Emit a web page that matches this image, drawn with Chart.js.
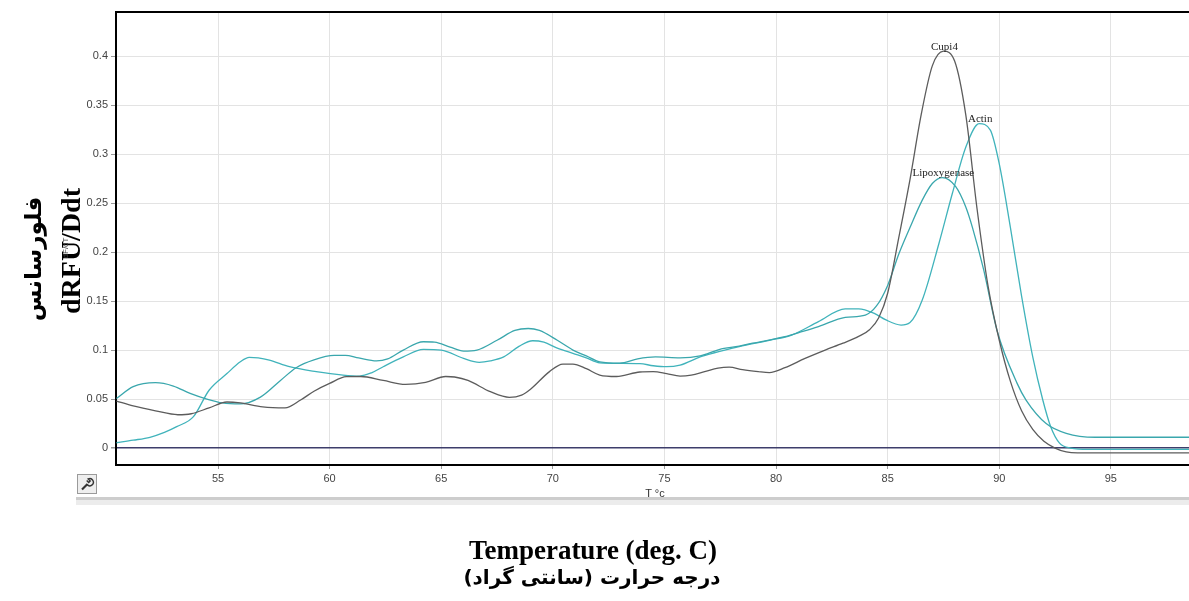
<!DOCTYPE html>
<html lang="en">
<head>
    <meta charset="UTF-8">
    <title>Melt curve - dF/dT</title>
    <script src="https://cdn.jsdelivr.net/npm/chart.js"></script>
    <style>
        body {
            margin: 0;
            background: #fff;
            font-family: Arial, "Liberation Sans", sans-serif;
        }
        .wrap {
            position: relative;
            width: 1189px;
            height: 601px;
            overflow: hidden;
        }
        canvas {
            position: absolute;
            left: 0;
            top: 0;
        }
        .lbl {
            position: absolute;
            white-space: nowrap;
            transform: translate(-50%, -50%);
        }
        .rot {
            transform: translate(-50%, -50%) rotate(-90deg);
        }
        .big {
            font-family: "Liberation Serif", "Times New Roman", serif;
            font-weight: bold;
            color: #000;
        }
        .fa {
            font-family: "DejaVu Sans", sans-serif;
            font-weight: bold;
            color: #000;
        }
        .strip {
            position: absolute;
            left: 76px;
            top: 497px;
            width: 1113px;
            height: 5px;
            border-top: 3px solid #cdcdcd;
            background: #ececec;
        }
        .tool {
            position: absolute;
            left: 77px;
            top: 474px;
        }
    </style>
</head>
<body>
<div class="wrap">
    <canvas id="melt" width="1189" height="601"></canvas>

    <div class="strip"></div>
    <svg class="tool" width="20" height="20">
        <rect x="0.5" y="0.5" width="19" height="19" fill="#eeeeee" stroke="#9a9a9a"/>
        <path d="M5 15.5 L10.5 10" stroke="#333" stroke-width="2.2" fill="none"/>
        <path d="M10 10.5 a3.6 3.6 0 1 0 1.2 -5.6 l2 2 -1.5 1.5 -2 -2" stroke="#333" stroke-width="1.4" fill="none"/>
    </svg>

    <div class="lbl rot fa" style="left:33px; top:259px; font-size:23px;">فلورسانس</div>
    <div class="lbl rot big" style="left:71px; top:251px; font-size:28px;">dRFU/Ddt</div>
    <div class="lbl rot" style="left:65px; top:248px; font-size:8px; color:#444;">dF/dT</div>

    <div class="lbl" style="left:655px; top:493px; font-size:11px; color:#333;">T °c</div>

    <div class="lbl big" style="left:593px; top:550px; font-size:27px;">Temperature (deg. C)</div>
    <div class="lbl fa" dir="rtl" style="left:592px; top:577px; font-size:20px;">درجه حرارت (سانتی گراد)</div>
</div>

<script>
    // values
    const cupi4Temp = [50.45, 51.2, 52.2, 53.2, 53.8, 54.6, 55.4, 56.0, 57.0, 58.0,
        58.7, 59.3, 60.0, 60.75, 61.4, 62.4, 63.4, 64.3, 65.2, 65.6,
        66.2, 67.2, 68.05, 68.6, 69.0, 69.85, 70.45, 70.9, 71.5, 72.1,
        72.85, 73.9, 74.5, 75.1, 75.7, 76.2, 76.8, 77.4, 77.9, 78.5,
        79.2, 79.7, 80.4, 81.3, 82.2, 83.0, 83.7, 84.2, 84.6, 85.0,
        85.5, 86.0, 86.5, 87.0, 87.5, 88.0, 88.5, 89.0, 89.5, 90.0,
        90.5, 91.0, 91.5, 92.0, 92.5, 93.0, 93.5, 98.5];
    const cupi4Vals = [0.048, 0.043, 0.038, 0.034, 0.035, 0.041, 0.047, 0.046, 0.042, 0.041,
        0.049, 0.058, 0.066, 0.0728, 0.073, 0.069, 0.065, 0.067, 0.073, 0.0725,
        0.069, 0.0575, 0.0517, 0.054, 0.060, 0.078, 0.0857, 0.0857, 0.081, 0.0745,
        0.073, 0.0776, 0.078, 0.076, 0.0735, 0.0745, 0.078, 0.0816, 0.0826, 0.080,
        0.078, 0.077, 0.082, 0.0915, 0.100, 0.107, 0.114, 0.121, 0.133, 0.158,
        0.215, 0.274, 0.34, 0.39, 0.405, 0.395, 0.34, 0.245, 0.165, 0.11,
        0.068, 0.038, 0.019, 0.007, 0.0, -0.004, -0.005, -0.005];

    const lipoxTemp = [50.45, 51.2, 52.2, 53.0, 53.75, 54.5, 55.2, 56.0, 56.9, 57.8,
        58.5, 59.3, 60.2, 60.7, 61.3, 62.1, 62.6, 63.3, 64.2, 64.7,
        65.4, 66.0, 66.6, 67.5, 68.3, 68.9, 69.4, 70.2, 70.9, 71.5,
        72.1, 73.0, 73.8, 74.6, 75.7, 76.6, 77.45, 78.35, 78.95, 80.4,
        81.2, 81.9, 83.1, 84.0, 84.5, 85.0, 85.5, 86.0, 86.55, 87.0,
        87.45, 88.05, 88.5, 88.8, 89.3, 89.9, 90.8, 91.2, 92.1, 93.0, 94.3, 98.5];
    const lipoxVals = [0.0505, 0.0626, 0.0667, 0.0633, 0.0558, 0.050, 0.046, 0.045, 0.052, 0.069,
        0.082, 0.090, 0.0945, 0.0945, 0.092, 0.089, 0.091, 0.100, 0.1085, 0.108,
        0.103, 0.099, 0.100, 0.110, 0.120, 0.122, 0.120, 0.110, 0.100, 0.094,
        0.088, 0.0867, 0.091, 0.093, 0.092, 0.094, 0.1005, 0.104, 0.107, 0.1136,
        0.119, 0.124, 0.1333, 0.1357, 0.145, 0.166, 0.198, 0.225, 0.253, 0.27,
        0.276, 0.2667, 0.246, 0.225, 0.182, 0.12, 0.066, 0.049, 0.025, 0.015, 0.011, 0.011];

    const actinTemp = [50.45, 51.2, 51.95, 52.6, 53.15, 53.9, 54.6, 55.4, 56.0, 56.4,
        56.8, 57.3, 58.2, 59.4, 60.6, 61.35, 61.9, 62.4, 63.3, 64.2,
        65.0, 66.0, 66.7, 67.2, 67.8, 68.5, 69.1, 69.6, 70.2, 70.9,
        71.5, 72.1, 73.0, 73.9, 74.5, 75.1, 75.7, 76.6, 77.2, 78.35,
        79.7, 80.7, 81.9, 83.1, 83.7, 84.4, 84.9, 85.6, 86.0, 86.55,
        87.3, 87.9, 88.5, 89.1, 89.6, 90.0, 90.5, 91.0, 91.5, 91.95,
        92.3, 92.7, 93.2, 94.0, 98.5];
    const actinVals = [0.0054, 0.008, 0.011, 0.016, 0.0218, 0.032, 0.059, 0.076, 0.088, 0.0925,
        0.092, 0.0898, 0.083, 0.078, 0.0745, 0.0735, 0.077, 0.083, 0.093, 0.1007,
        0.100, 0.0915, 0.0875, 0.089, 0.093, 0.104, 0.1095, 0.108, 0.102, 0.0966,
        0.092, 0.087, 0.0865, 0.0862, 0.084, 0.083, 0.0847, 0.093, 0.097, 0.1034,
        0.110, 0.1153, 0.129, 0.142, 0.142, 0.1374, 0.131, 0.1255, 0.128, 0.151,
        0.209, 0.26, 0.307, 0.331, 0.3245, 0.29, 0.225, 0.155, 0.093, 0.049,
        0.022, 0.005, 0.0, -0.0013, -0.0013];

    const xTicks = [55, 60, 65, 70, 75, 80, 85, 90, 95];
    const yTicks = [0, 0.05, 0.1, 0.15, 0.2, 0.25, 0.3, 0.35, 0.4];

    const toPoints = (xs, ys) => xs.map((x, i) => ({ x: x, y: ys[i] }));

    // top frame line + gene name above each peak
    const framePlugin = {
        id: 'frame',
        afterDatasetsDraw(chart) {
            const { ctx, chartArea } = chart;
            ctx.save();
            ctx.strokeStyle = '#000';
            ctx.lineWidth = 2;
            ctx.beginPath();
            ctx.moveTo(chartArea.left - 1, chartArea.top);
            ctx.lineTo(chartArea.right, chartArea.top);
            ctx.stroke();

            ctx.font = '11px "Liberation Serif", "Times New Roman", serif';
            ctx.fillStyle = '#222';
            ctx.textAlign = 'center';
            ctx.textBaseline = 'bottom';
            chart.data.datasets.forEach(ds => {
                let best = ds.data[0];
                ds.data.forEach(p => { if (p.y > best.y) best = p; });
                const px = chart.scales.x.getPixelForValue(best.x);
                const py = chart.scales.y.getPixelForValue(best.y);
                ctx.fillText(ds.label, px + 1, py + 1);
            });
            ctx.restore();
        }
    };

    new Chart(document.getElementById('melt'), {
        type: 'line',
        data: {
            datasets: [
                {
                    label: 'Cupi4',
                    data: toPoints(cupi4Temp, cupi4Vals),
                    borderColor: '#5c5c5c'
                },
                {
                    label: 'Lipoxygenase',
                    data: toPoints(lipoxTemp, lipoxVals),
                    borderColor: '#3aa7ad'
                },
                {
                    label: 'Actin',
                    data: toPoints(actinTemp, actinVals),
                    borderColor: '#40b3bb'
                }
            ]
        },
        options: {
            responsive: false,
            animation: false,
            layout: { padding: { left: 76, top: 12, right: 0, bottom: 106 } },
            elements: {
                point: { radius: 0 },
                line: { borderWidth: 1.3, cubicInterpolationMode: 'monotone' }
            },
            plugins: {
                legend: { display: false },
                tooltip: { enabled: false }
            },
            scales: {
                x: {
                    type: 'linear',
                    min: 50.43,
                    max: 98.5,
                    afterBuildTicks: s => { s.ticks = xTicks.map(v => ({ value: v })); },
                    afterFit: s => { s.height = 30; },
                    ticks: {
                        font: { family: 'Arial, "Liberation Sans"', size: 11 },
                        color: '#444',
                        padding: 3,
                        maxRotation: 0
                    },
                    grid: { color: '#e3e3e3', tickLength: 4, tickColor: '#999' },
                    border: { color: '#000', width: 2 }
                },
                y: {
                    min: -0.0173,
                    max: 0.445,
                    afterBuildTicks: s => { s.ticks = yTicks.map(v => ({ value: v })); },
                    afterFit: s => { s.width = 40; },
                    ticks: {
                        font: { family: 'Arial, "Liberation Sans"', size: 11 },
                        color: '#444',
                        padding: 3,
                        callback: v => String(v)
                    },
                    grid: {
                        color: c => (c.tick && c.tick.value === 0) ? '#3d3d6b' : '#e3e3e3',
                        lineWidth: c => (c.tick && c.tick.value === 0) ? 1.5 : 1,
                        tickLength: 5,
                        tickColor: '#999'
                    },
                    border: { color: '#000', width: 2 }
                }
            }
        },
        plugins: [framePlugin]
    });
</script>
</body>
</html>
